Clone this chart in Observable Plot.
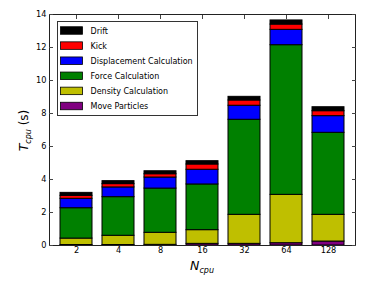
<!DOCTYPE html>
<html>
<head>
<meta charset="utf-8">
<script src="https://cdn.jsdelivr.net/npm/d3@7"></script>
<script src="https://cdn.jsdelivr.net/npm/@observablehq/plot@0.6"></script>
<style>
  html, body { margin: 0; padding: 0; background: white; }
  #chart { width: 374px; height: 282px; }
</style>
</head>
<body>
<div id="chart"></div>
<script>
// Categories (number of CPUs)
const ncpu = ["2", "4", "8", "16", "32", "64", "128"];
// Series values (seconds), stacked bottom to top
const moveParticles    = [0.03, 0.03, 0.04, 0.10, 0.10, 0.14, 0.24];
const densityCalc      = [0.39, 0.56, 0.73, 0.83, 1.76, 2.93, 1.62];
const forceCalc        = [1.84, 2.34, 2.68, 2.77, 5.76, 9.07, 4.97];
const displacementCalc = [0.57, 0.59, 0.67, 0.89, 0.85, 0.93, 1.01];
const kick             = [0.18, 0.20, 0.20, 0.32, 0.32, 0.32, 0.30];
const drift            = [0.18, 0.18, 0.18, 0.20, 0.22, 0.25, 0.24];
// Series names and colours (bottom to top)
const seriesNames  = ["Move Particles", "Density Calculation", "Force Calculation", "Displacement Calculation", "Kick", "Drift"];
const seriesColors = ["#800080", "#bfbf00", "#008000", "#0000ff", "#ff0000", "#000000"];
const seriesValues = [moveParticles, densityCalc, forceCalc, displacementCalc, kick, drift];
// Tick values
const yTicks = [0, 2, 4, 6, 8, 10, 12, 14];

const rows = [];
seriesNames.forEach((s, si) => {
  ncpu.forEach((n, i) => rows.push({ncpu: n, series: s, value: seriesValues[si][i]}));
});

const W = 374, H = 282, mL = 49, mR = 19, mT = 14, mB = 37;

const chart = Plot.plot({
  width: W, height: H,
  marginLeft: mL, marginRight: mR, marginTop: mT, marginBottom: mB,
  style: {fontFamily: "DejaVu Sans", fontSize: "8.2px", color: "black", background: "white"},
  x: {domain: ncpu, paddingInner: 0.24, paddingOuter: 0.25, label: null},
  y: {domain: [0, 14], label: null},
  color: {domain: seriesNames, range: seriesColors},
  marks: [
    Plot.barY(rows, {x: "ncpu", y: "value", fill: "series", stroke: "black", strokeWidth: 1, order: seriesNames}),
    Plot.frame({stroke: "#222", strokeWidth: 1}),
    Plot.axisY({anchor: "left", ticks: yTicks, tickSize: -4, tickPadding: 7, label: null, stroke: "#444"}),
    Plot.axisY({anchor: "right", ticks: yTicks, tickSize: -4, tickFormat: () => "", label: null, stroke: "#444"}),
    Plot.axisX({anchor: "bottom", tickSize: 0, tickPadding: 2, label: null}),
    Plot.axisX({anchor: "top", tickSize: -4, tickFormat: () => "", label: null, stroke: "#444"})
  ]
});
document.getElementById("chart").appendChild(chart);

const svg = d3.select(chart);

// Y axis label: T_cpu (s)
const yl = svg.append("text")
  .attr("transform", `translate(${mL - 21},${(mT + H - mB) / 2 + 1}) rotate(-90)`)
  .attr("text-anchor", "middle")
  .attr("font-family", "DejaVu Sans")
  .attr("fill", "black");
yl.append("tspan").attr("font-size", 12.5).attr("font-style", "italic").text("T");
yl.append("tspan").attr("font-size", 8).attr("font-style", "italic").attr("dy", 2.5).text("cpu");
yl.append("tspan").attr("font-size", 12).attr("dy", -2.5).text(" (s)");

// X axis label: N_cpu
const xl = svg.append("text")
  .attr("x", (mL + W - mR) / 2)
  .attr("y", 270)
  .attr("text-anchor", "middle")
  .attr("font-family", "DejaVu Sans")
  .attr("fill", "black");
xl.append("tspan").attr("font-size", 12.5).attr("font-style", "italic").text("N");
xl.append("tspan").attr("font-size", 8).attr("font-style", "italic").attr("dy", 2.5).text("cpu");

// Legend (top to bottom: reversed stack order)
const legendItems = seriesNames.map((s, i) => ({name: s, color: seriesColors[i]})).reverse();
const lg = svg.append("g").attr("transform", `translate(${mL + 8.5},${mT + 7.5})`);
lg.append("rect").attr("width", 140).attr("height", 94)
  .attr("fill", "white").attr("stroke", "#333").attr("stroke-width", 1);
legendItems.forEach((d, i) => {
  const cy = 9 + i * 15.1;
  lg.append("rect").attr("x", 3).attr("y", cy - 3.75).attr("width", 22).attr("height", 7.5)
    .attr("fill", d.color).attr("stroke", "black").attr("stroke-width", 0.8);
  lg.append("text").attr("x", 33).attr("y", cy + 3)
    .attr("text-anchor", "start")
    .attr("font-family", "DejaVu Sans").attr("font-size", 8).attr("fill", "black")
    .text(d.name);
});
</script>
</body>
</html>
